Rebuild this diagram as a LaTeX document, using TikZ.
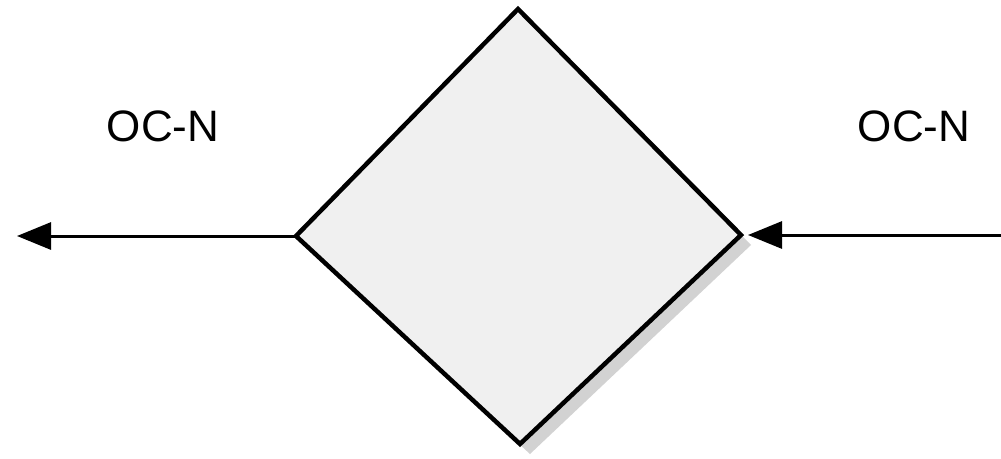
\documentclass[tikz,border=0pt]{standalone}
\usepackage{fontspec}
\setmainfont{Liberation Sans}
\usetikzlibrary{arrows.meta}
\begin{document}
\begin{tikzpicture}[x=1pt,y=-1pt,
  boxline/.style={draw=black,line width=4.5pt,line join=miter,fill=gray!12},
  shade/.style={fill=gray!35,draw=none},
  arr/.style={line width=3pt,-{Triangle[length=34pt,width=27pt]}},
  lbl/.style={font=\fontsize{44}{48}\selectfont,inner sep=0pt}]
\useasboundingbox (0,0) rectangle (1001,458);
\coordinate (t) at (518,9);
\coordinate (r) at (741,235);
\coordinate (b) at (520,444);
\coordinate (l) at (296,236);
\fill[shade] ([shift={(10,10)}]t) -- ([shift={(10,10)}]r) -- ([shift={(10,10)}]b) -- ([shift={(10,10)}]l) -- cycle;
\draw[boxline] (t) -- (r) -- (b) -- (l) -- cycle;
\coordinate (lt) at (17,236);
\coordinate (rs) at (1001,235);
\coordinate (rt) at (748,235);
\draw[arr] (l) -- (lt);
\draw[arr] (rs) -- (rt);
\node[lbl] (l1) at (163,126) {OC-N};
\node[lbl] (l2) at (914,126) {OC-N};
\end{tikzpicture}
\end{document}
